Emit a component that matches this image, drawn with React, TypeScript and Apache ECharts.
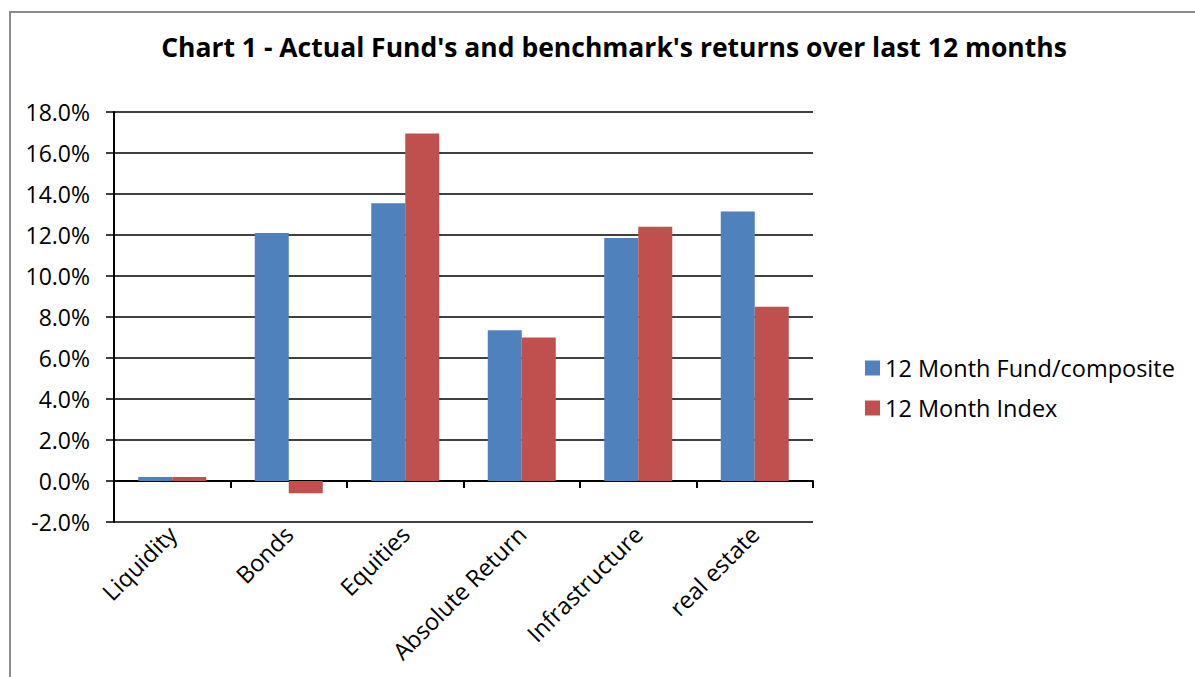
import React, { useEffect, useRef } from "react";
import * as echarts from "echarts";

const categories = ["Liquidity", "Bonds", "Equities", "Absolute Return", "Infrastructure", "real estate"];
const fundValues = [0.2, 12.1, 13.55, 7.35, 11.85, 13.15];
const indexValues = [0.2, -0.6, 16.95, 7.0, 12.4, 8.5];
const seriesNames = ["12 Month Fund/composite", "12 Month Index"];
const titleText = "Chart 1 - Actual Fund's and benchmark's returns over last 12 months";

const FONT = "'Open Sans', sans-serif";

export default function App() {
  const ref = useRef<HTMLDivElement>(null);
  useEffect(() => {
    if (!ref.current) return;
    const chart = echarts.init(ref.current, undefined, { renderer: "svg" });
    chart.setOption({
      animation: false,
      backgroundColor: "#ffffff",
      textStyle: { fontFamily: FONT },
      title: {
        text: titleText,
        left: 609,
        textAlign: "center",
        top: 28,
        textStyle: { fontFamily: FONT, fontSize: 26.5, fontWeight: "bold", color: "#000" },
      },
      graphic: [
        {
          type: "rect",
          shape: { x: 10, y: 12, width: 1220, height: 720 },
          style: { fill: "none", stroke: "#8c8c8c", lineWidth: 2 },
          silent: true,
        },
      ],
      legend: {
        orient: "vertical",
        left: 860,
        top: 349,
        itemWidth: 15,
        itemHeight: 15,
        itemGap: 12,
        icon: "rect",
        textStyle: { fontFamily: FONT, fontSize: 23.5, color: "#000", lineHeight: 28 },
        data: seriesNames,
      },
      grid: { left: 114, right: 382, top: 112, bottom: 155, containLabel: false },
      xAxis: [
        {
          type: "category",
          data: categories,
          position: "bottom",
          axisLine: { show: true, onZero: true, lineStyle: { color: "#000", width: 2 } },
          axisTick: { show: true, interval: 0, length: 7, lineStyle: { color: "#000", width: 2 } },
          axisLabel: { show: false, interval: 0 },
          splitLine: { show: false },
        },
        {
          type: "category",
          data: categories,
          position: "bottom",
          axisLine: { show: false, onZero: false },
          axisTick: { show: false },
          axisLabel: {
            show: true,
            rotate: 45,
            margin: 8,
            interval: 0,
            fontFamily: FONT,
            fontSize: 23.5,
            color: "#000",
          },
        },
      ],
      yAxis: {
        type: "value",
        min: -2,
        max: 18,
        interval: 2,
        axisLine: { show: true, lineStyle: { color: "#000", width: 2 } },
        axisTick: { show: true, length: 8, lineStyle: { color: "#000", width: 1.5 } },
        axisLabel: {
          margin: 24,
          fontFamily: FONT,
          fontSize: 23,
          color: "#000",
          formatter: (v: number) => v.toFixed(1) + "%",
        },
        splitLine: { show: true, lineStyle: { color: "#000", width: 1.5 } },
      },
      series: [
        {
          name: seriesNames[0],
          type: "bar",
          xAxisIndex: 0,
          data: fundValues,
          barWidth: 34,
          barGap: "0%",
          itemStyle: { color: "#4F81BD" },
        },
        {
          name: seriesNames[1],
          type: "bar",
          xAxisIndex: 0,
          data: indexValues,
          barWidth: 34,
          barGap: "0%",
          itemStyle: { color: "#C0504D" },
        },
      ],
    });
    return () => chart.dispose();
  }, []);
  return (
    <div
      ref={ref}
      style={{ position: "fixed", left: 0, top: 0, width: 1195, height: 677 }}
    />
  );
}
